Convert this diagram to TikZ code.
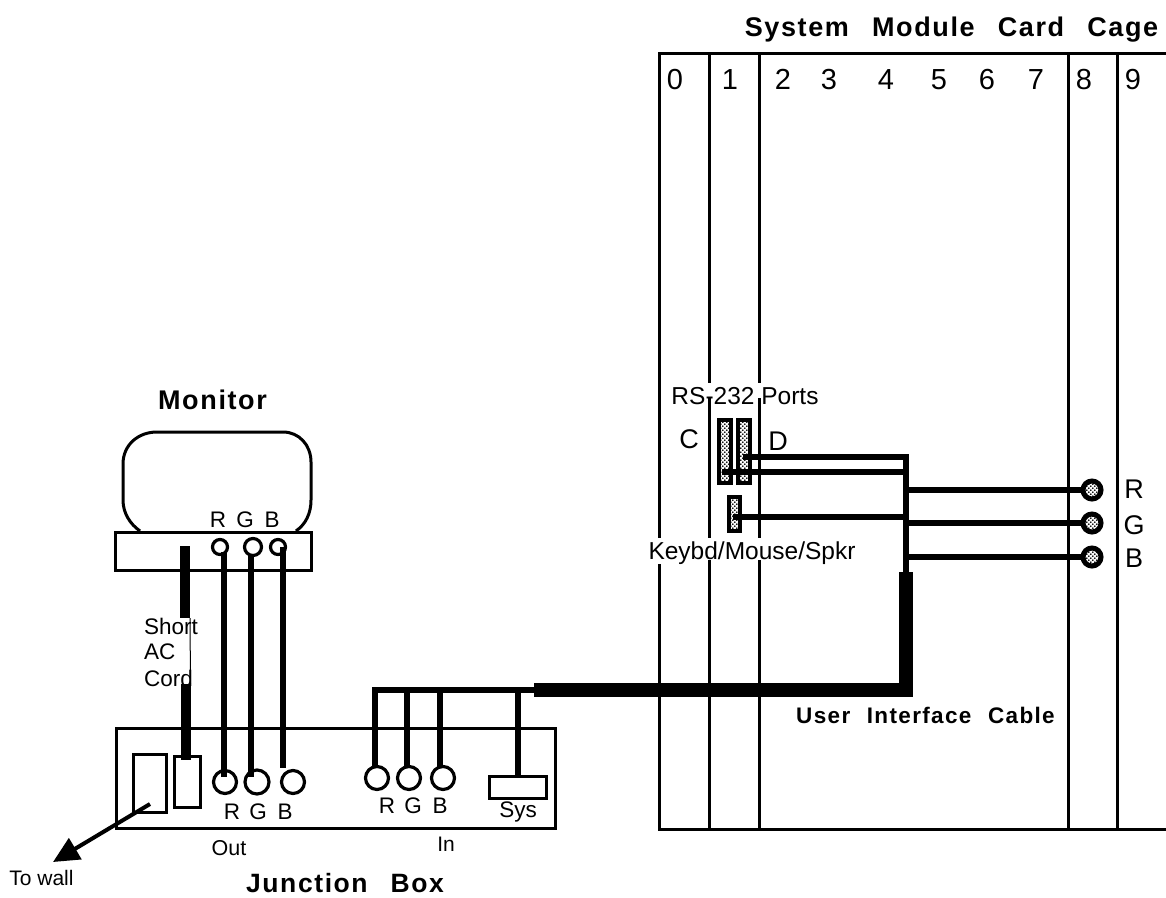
\documentclass[tikz,border=0pt]{standalone}
\usepackage{fontspec}
\setmainfont{Liberation Sans}
\newfontfamily\spacedbold[LetterSpace=6]{Liberation Sans Bold}
\usetikzlibrary{patterns,arrows.meta}
\pgfdeclarepatternformonly{chunkdots}{\pgfqpoint{-1pt}{-1pt}}{\pgfqpoint{4pt}{4pt}}{\pgfqpoint{4pt}{4pt}}{%
  \pgfpathcircle{\pgfqpoint{0.8pt}{0.8pt}}{0.95pt}%
  \pgfpathcircle{\pgfqpoint{2.8pt}{2.8pt}}{0.95pt}%
  \pgfusepath{fill}}
\tikzset{
  frameline/.style={line width=3pt,black},
  wire/.style={line width=5.5pt,black},
  thickwire/.style={line width=14pt,black},
  cordwire/.style={line width=10pt,black},
  thinline/.style={line width=1pt,black},
  boxshape/.style={draw,line width=3pt,rectangle,inner sep=0pt,fill=white},
  roundport/.style={draw,line width=3.2pt,circle,inner sep=0pt,fill=white},
  dotport/.style={draw,line width=4pt,rectangle,inner sep=0pt,pattern=chunkdots},
  dotend/.style={draw,line width=5pt,circle,inner sep=0pt,minimum size=18pt,pattern=chunkdots},
  txt/.style={inner sep=0pt,font=\fontsize{24.5}{26}\selectfont},
  lbl/.style={inner sep=0pt,font=\fontsize{22.5}{24}\selectfont},
  num/.style={inner sep=0pt,font=\fontsize{27}{29}\selectfont},
  digit/.style={inner sep=0pt,anchor=base,font=\fontsize{29}{31}\selectfont},
  title/.style={inner sep=0pt,font=\spacedbold\fontsize{27}{29}\selectfont},
  subtitle/.style={inner sep=0pt,font=\spacedbold\fontsize{22.5}{24}\selectfont},
}
\begin{document}
\begin{tikzpicture}[x=1pt,y=-1pt]
\useasboundingbox (0,0) rectangle (1166,897);
\fill[white] (0,0) rectangle (1166,897);
% card cage
\draw[frameline] (1166,53) -- (659,53) -- (659,538);
\draw[frameline] (659,564) -- (659,829) -- (1166,829);
\foreach \x in {709,759}{
  \draw[frameline] (\x,53) -- (\x,383);
  \draw[frameline] (\x,398) -- (\x,538);
  \draw[frameline] (\x,560) -- (\x,829);
}
\draw[frameline] (1068,53) -- (1068,829);
\draw[frameline] (1117,53) -- (1117,829);
\node[title] (cagetitle) at (951.5,30) {System\hspace{14pt} Module\hspace{14pt} Card\hspace{14pt} Cage};
\node[digit] (n0) at (675,89) {0};
\node[digit] (n1) at (730,89) {1};
\node[digit] (n2) at (783,89) {2};
\node[digit] (n3) at (829,89) {3};
\node[digit] (n4) at (886,89) {4};
\node[digit] (n5) at (939,89) {5};
\node[digit] (n6) at (987,89) {6};
\node[digit] (n7) at (1036,89) {7};
\node[digit] (n8) at (1084,89) {8};
\node[digit] (n9) at (1133,89) {9};
% ports
\node[txt] (rslabel) at (745,396) {RS-232 Ports};
\node[num] (clabel) at (689,439) {C};
\node[num] (dlabel) at (778,441) {D};
\node[txt] (kblabel) at (752,553) {Keybd/Mouse/Spkr};
\node[dotport,minimum width=12pt,minimum height=63pt] (portc) at (724.5,451) {};
\node[dotport,minimum width=12pt,minimum height=63pt] (portd) at (743.5,451) {};
\node[dotport,minimum width=11pt,minimum height=34pt] (portk) at (734,513.5) {};
% RGB outputs
\coordinate (busa) at (906,457);
\coordinate (busb) at (906,572);
\coordinate (thickstart) at (534,690);
\coordinate (corner) at (913,690);
\node[dotend] (endr) at (1092,490) {};
\node[dotend] (endg) at (1092,523) {};
\node[dotend] (endb) at (1092,557) {};
\node[num] (rr) at (1134,489) {R};
\node[num] (rg) at (1134,525) {G};
\node[num] (rb) at (1134,558) {B};
\draw[wire] (743,457) -- (busa) -- (busb);
\draw[wire] (722,472) -- (906,472);
\draw[wire] (733,517) -- (906,517);
\draw[wire] (906,490) -- (endr.west);
\draw[wire] (906,523) -- (endg.west);
\draw[wire] (906,557) -- (endb.west);
\draw[thickwire] (busb) -- (906,697);
\draw[thickwire] (thickstart) -- (corner);
\node[subtitle] (uic) at (925.5,715) {User\hspace{9pt} Interface\hspace{9pt} Cable};
% monitor
\node[title] (montitle) at (212.5,400) {Monitor};
\draw[line width=3pt] (140,531)
  .. controls (130,524) and (123,513) .. (123,500) -- (123,464)
  .. controls (123,445) and (138,432) .. (157,432) -- (283,432)
  .. controls (299,432) and (311,445) .. (311,462) -- (311,500)
  .. controls (311,513) and (306,524) .. (296,531);
\node[lbl] (mr) at (218,520) {R};
\node[lbl] (mg) at (245,520) {G};
\node[lbl] (mb) at (272,520) {B};
\node[boxshape,minimum width=196pt,minimum height=38pt] (stand) at (213,551) {};
\node[roundport,minimum size=15pt] (mpr) at (220,547) {};
\node[roundport,minimum size=17pt] (mpg) at (253,547) {};
\node[roundport,minimum size=15pt] (mpb) at (278,547) {};
% junction box
\node[boxshape,minimum width=439pt,minimum height=100pt] (jbox) at (335.5,778.5) {};
\node[boxshape,minimum width=33pt,minimum height=58pt] (outlet) at (149.5,783) {};
\node[boxshape,minimum width=26pt,minimum height=51pt] (plug) at (187,781.5) {};
\node[roundport,minimum size=23pt] (jor) at (225,782) {};
\node[roundport,minimum size=24pt] (jog) at (257,782) {};
\node[roundport,minimum size=23pt] (job) at (293,782) {};
\node[roundport,minimum size=23pt] (jir) at (377,778) {};
\node[roundport,minimum size=23pt] (jig) at (409,778) {};
\node[roundport,minimum size=23pt] (jib) at (443,778) {};
\node[boxshape,minimum width=57pt,minimum height=22pt] (sys) at (517.5,787) {};
\node[lbl] (jr) at (232,812) {R};
\node[lbl] (jg) at (258,812) {G};
\node[lbl] (jb) at (285,812) {B};
\node[lbl] (ir) at (387,806) {R};
\node[lbl] (ig) at (413,806) {G};
\node[lbl] (ib) at (440,806) {B};
\node[lbl] (syslabel) at (518,812) {Sys};
\node[lbl,font=\fontsize{21.5}{23}\selectfont] (outlabel) at (229,848) {Out};
\node[lbl,font=\fontsize{21}{23}\selectfont] (inlabel) at (446,844) {In};
\node[lbl,font=\fontsize{21}{23}\selectfont] (wall) at (41.5,878) {To wall};
\node[title,font=\spacedbold\fontsize{26.5}{28}\selectfont] (jtitle) at (345,883) {Junction\hspace{14pt} Box};
% monitor to box
\draw[wire] (224,552) -- (224,777);
\draw[wire] (251,555) -- (251,777);
\draw[wire] (283,547) -- (283,768);
% AC cord
\coordinate (corda) at (185,546);
\coordinate (cordb) at (185,618);
\coordinate (cordc) at (186,684);
\coordinate (cordd) at (186,760);
\draw[cordwire] (corda) -- (cordb);
\draw[thinline] (190,618) -- (190.5,684);
\draw[cordwire] (cordc) -- (cordd);
\node[lbl,anchor=west] (cord1) at (144,626) {Short};
\node[lbl,anchor=west] (cord2) at (144,652) {AC};
\node[lbl,anchor=west] (cord3) at (144,678) {Cord};
% wall arrow
\coordinate (wallend) at (53,862);
\draw[line width=4pt,-{Triangle[length=26pt,width=24pt]}] (150,804) -- (wallend);
% junction wires
\draw[wire] (375,768) -- (375,690) -- (thickstart);
\draw[wire] (407,690) -- (407,768);
\draw[wire] (440,690) -- (440,768);
\draw[wire] (518,690) -- (518,776);
\end{tikzpicture}
\end{document}
